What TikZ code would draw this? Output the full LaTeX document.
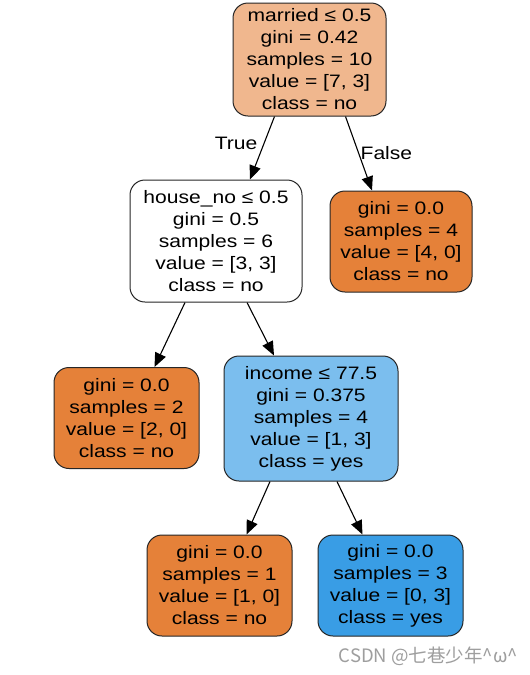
\documentclass[tikz,border=0pt]{standalone}
\usepackage{fontspec}
\setmainfont{Liberation Sans}[FakeStretch=1.17]
\newfontfamily\cjk{Noto Sans CJK SC}
\usetikzlibrary{arrows.meta}
\usetikzlibrary{calc}
\definecolor{noorange}{HTML}{E58139}
\definecolor{yesblue}{HTML}{399DE5}
\definecolor{nolight}{HTML}{F0B78E}
\definecolor{yeslight}{HTML}{7BBEEE}
\tikzset{>={Triangle[length=14pt,width=11.5pt]}}
\tikzstyle{treenode}=[draw=black!85,line width=1pt,rounded corners=15pt,align=center,
                      inner sep=0pt,font=\fontsize{18}{22}\selectfont]
\tikzset{
  split/.style={->,line width=1.1pt},
  leafno/.style={treenode,fill=noorange,minimum width=145pt,minimum height=101pt},
  leafyes/.style={treenode,fill=yesblue,minimum width=145pt,minimum height=101pt}}

\begin{document}
\begin{tikzpicture}[x=1pt,y=-1pt]
  \useasboundingbox[fill=white] (0,0) rectangle (530,675);

  % NODES
  \node[treenode,fill=nolight,minimum width=153pt,minimum height=113pt] (root) at (309.5,59.5)
    {married ≤ 0.5\\gini = 0.42\\samples = 10\\value = [7, 3]\\class = no};
  \node[treenode,fill=white,minimum width=172pt,minimum height=122pt] (house) at (216,241)
    {house\_no ≤ 0.5\\gini = 0.5\\samples = 6\\value = [3, 3]\\class = no};
  \node[leafno,minimum width=142pt] (married) at (401,241.5)
    {gini = 0.0\\samples = 4\\value = [4, 0]\\class = no};
  \node[leafno] (houseleaf) at (126.5,418)
    {gini = 0.0\\samples = 2\\value = [2, 0]\\class = no};
  \node[treenode,fill=yeslight,minimum width=174pt,minimum height=125pt] (income) at (311,418.5)
    {income ≤ 77.5\\gini = 0.375\\samples = 4\\value = [1, 3]\\class = yes};
  \node[leafno] (lowinc) at (219.5,585.5)
    {gini = 0.0\\samples = 1\\value = [1, 0]\\class = no};
  \node[leafyes] (highinc) at (390.5,585.5)
    {gini = 0.0\\samples = 3\\value = [0, 3]\\class = yes};

  % EDGES
  \draw[split] ([xshift=-35]root.south) -- ([xshift=34]house.north)
    node[pos=0.42,left=3pt,font=\fontsize{18}{22}\selectfont] (truelab) {True};
  \draw[split] ([xshift=36]root.south) -- ([xshift=-29]married.north)
    node[pos=0.5,right=-2pt,font=\fontsize{18}{22}\selectfont] (falselab) {False};
  \draw[split] ([xshift=-31]house.south) -- ([xshift=28]houseleaf.north);
  \draw[split] ([xshift=31]house.south) -- ([xshift=-37]income.north);
  \draw[split] ([xshift=-41]income.south) -- ([xshift=27]lowinc.north);
  \draw[split] ([xshift=26]income.south) -- ([xshift=-28]highinc.north);

  % WATERMARK
  \node[anchor=east,text=black!38,inner sep=0pt,font=\cjk\fontsize{18.5}{22}\selectfont] (mark) at (518,656)
    {CSDN @七巷少年\^{}ω\^{}};
\end{tikzpicture}
\end{document}
